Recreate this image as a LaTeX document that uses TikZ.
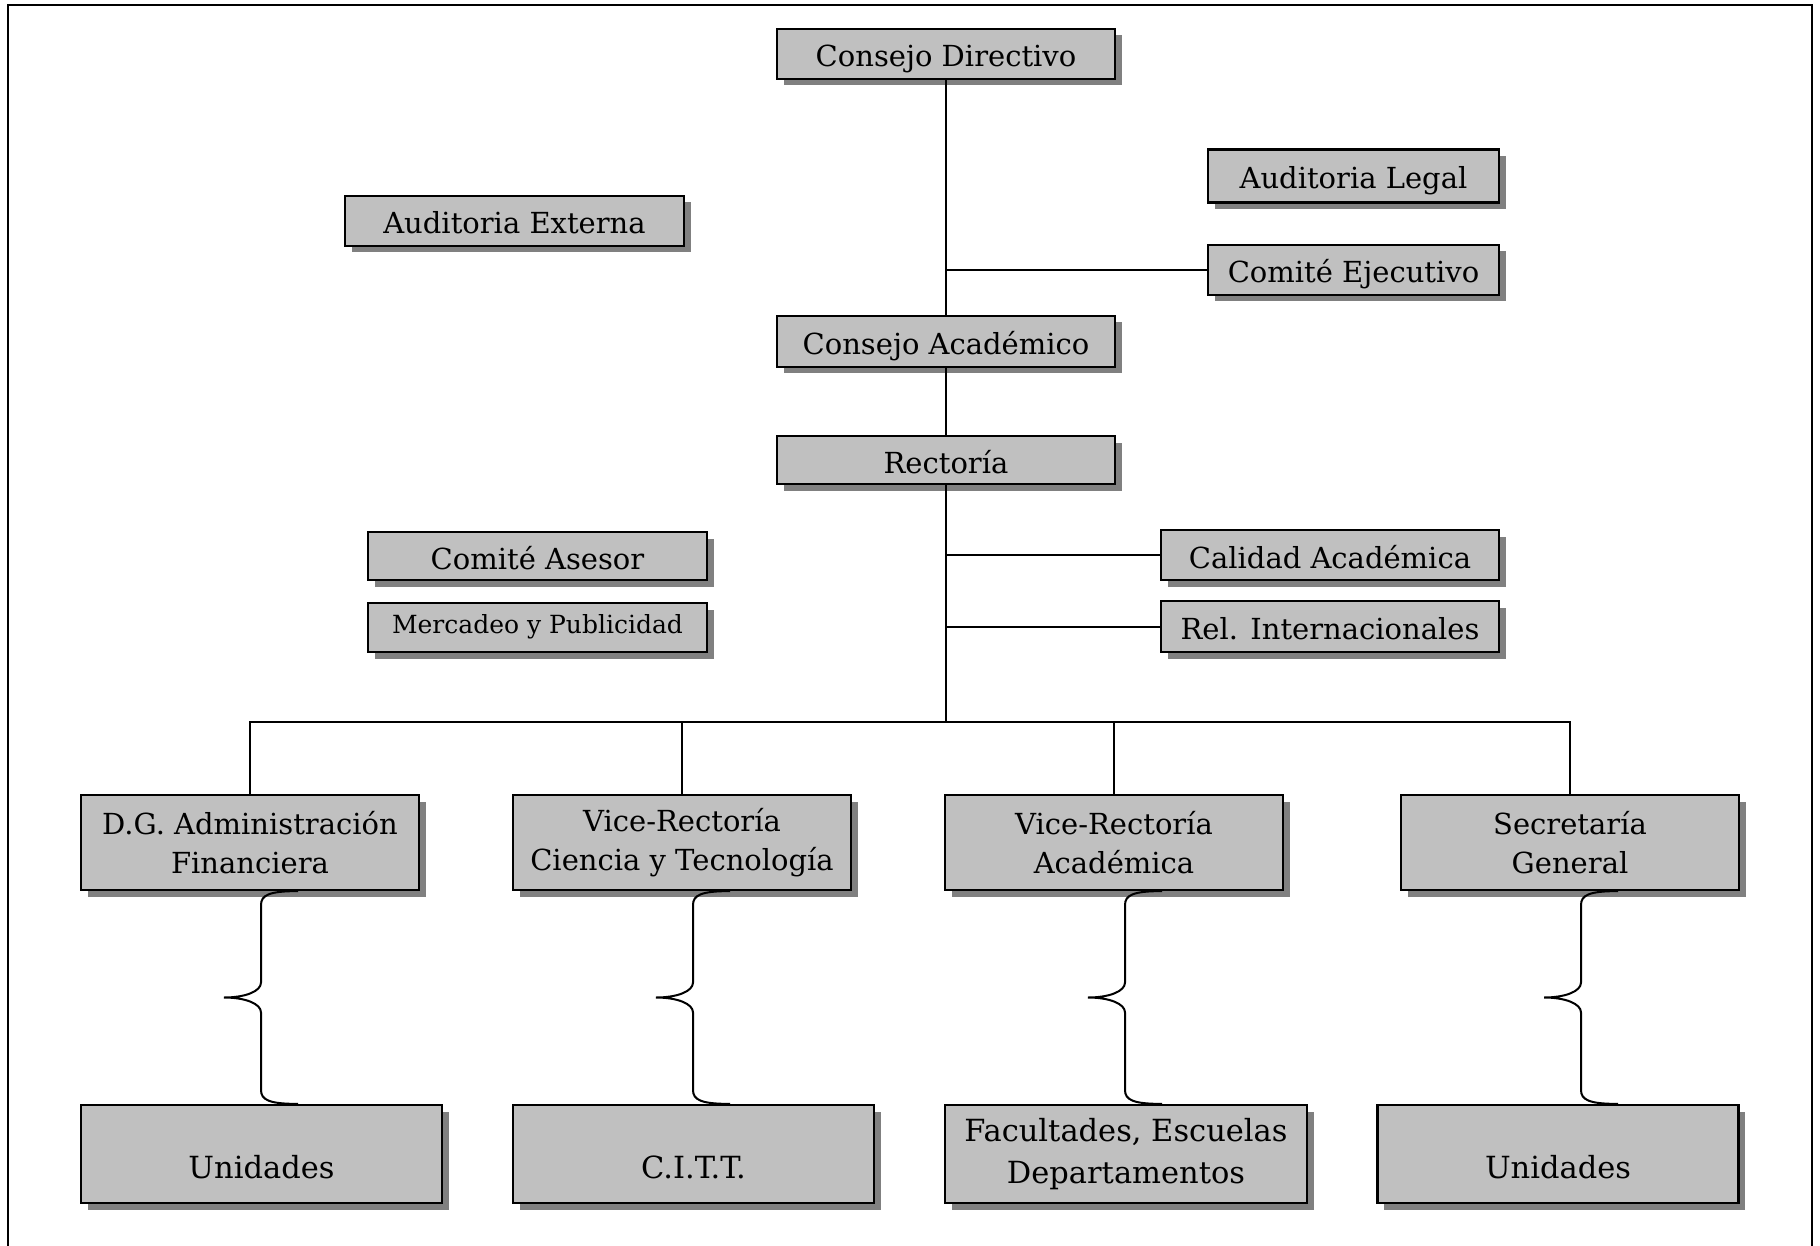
\documentclass[tikz,border=0pt]{standalone}
\usepackage{fontspec}
\setmainfont{DejaVu Serif}
\usetikzlibrary{shadows,calc}

\definecolor{boxgray}{HTML}{C0C0C0}
\definecolor{shadowgray}{HTML}{808080}

\begin{document}
\begin{tikzpicture}[x=1pt,y=-1pt,line width=2pt,
    box/.style={draw,fill=boxgray,line width=2.2pt,inner sep=2pt,
                font=\fontsize{29}{39}\selectfont,
                drop shadow={fill=shadowgray,opacity=1,
                             shadow xshift=6.5pt,shadow yshift=-6.5pt}},
    top/.style={box,minimum width=338pt,minimum height=50pt,
                text height=28pt,text depth=2pt},
    small/.style={font=\fontsize{25}{32}\selectfont,
                  text height=17pt,text depth=6pt},
    dept/.style={box,align=center,minimum width=338pt,minimum height=95pt},
    leaf/.style={box,align=center,minimum width=361pt,minimum height=98pt,
                 font=\fontsize{30.5}{42}\selectfont},
    single/.style={text height=50pt,text depth=2pt},
    % curly brace hanging under a box, opening to the right
    curly/.style={to path={
      let \p1=(\tikztostart), \p2=(\tikztotarget),
          \p3=($(\tikztostart)!.5!(\tikztotarget)$) in
      ({\x1+48pt},\y1) .. controls ({\x1+19pt},\y1) and ({\x1+11pt},{\y1-4pt})
        .. ({\x1+11pt},{\y1-14pt})
      -- ({\x1+11pt},{\y3+15pt}) .. controls ({\x1+11pt},{\y3+6pt}) and ({\x1-5pt},\y3)
        .. ({\x1-26pt},\y3)
      .. controls ({\x1-5pt},\y3) and ({\x1+11pt},{\y3-6pt}) .. ({\x1+11pt},{\y3-15pt})
      -- ({\x1+11pt},{\y2+14pt}) .. controls ({\x1+11pt},{\y2+4pt}) and ({\x1+19pt},\y2)
        .. ({\x1+48pt},\y2)}}]

  \useasboundingbox (0,0) rectangle (1820,1246);
  \draw (8,5) rectangle (1812,1280);

  % governing bodies
  \node[top]                       (cd)  at (946,54)      {Consejo Directivo};
  \node[top,minimum width=339pt]   (ae)  at (514.5,221)   {Auditoria Externa};
  \node[top,minimum width=291pt,minimum height=53pt]
                                   (al)  at (1353.5,176)  {Auditoria Legal};
  \node[top,minimum width=291pt]   (ce)  at (1353.5,270)  {Comité Ejecutivo};
  \node[top,minimum height=51pt]   (ca)  at (946,341.5)   {Consejo Académico};
  \node[top,minimum height=48pt]   (re)  at (946,460)     {Rectoría};

  % staff around the rector
  \node[top,minimum width=339pt,minimum height=48pt]
                                   (cas) at (537.5,556)   {Comité Asesor};
  \node[top,small,minimum width=339pt,minimum height=49pt]
                                   (mp)  at (537.5,627.5) {Mercadeo y Publicidad};
  \node[top]                       (cal) at (1330,555)    {Calidad Académica};
  \node[top,minimum height=51pt]   (ri)  at (1330,626.5)  {Rel. Internacionales};

  % directions
  \node[dept] (dg) at (250,842.5)  {D.G. Administración\\Financiera};
  \node[dept] (vc) at (682,842.5)  {Vice-Rectoría\\Ciencia y Tecnología};
  \node[dept] (va) at (1114,842.5) {Vice-Rectoría\\Académica};
  \node[dept] (sg) at (1570,842.5) {Secretaría\\General};

  % units under each direction
  \node[leaf,single]                (u1) at (261.5,1154) {Unidades};
  \node[leaf,single]                (ct) at (693.5,1154) {C.I.T.T.};
  \node[leaf,minimum width=362pt]   (fe) at (1126,1154)  {Facultades, Escuelas\\Departamentos};
  \node[leaf,single]                (u2) at (1558,1154)  {Unidades};

  \coordinate (bus) at (946,722);

  \draw (cd.south) -- (ca.north)
        (ca.south) -- (re.north)
        (re.south) -- (bus);
  \draw (ce.west) -- (ce.west -| cd.south);
  \draw (cal.west) -- (cal.west -| re.south)
        (ri.west)  -- (ri.west -| re.south);

  \draw (dg.north) |- (bus) -| (sg.north);
  \draw (vc.north) -- (vc.north |- bus)
        (va.north) -- (va.north |- bus);

  \draw (dg.south) to[curly] (u1.north);
  \draw (vc.south) to[curly] (ct.north);
  \draw (va.south) to[curly] (fe.north);
  \draw (sg.south) to[curly] (u2.north);
\end{tikzpicture}
\end{document}
